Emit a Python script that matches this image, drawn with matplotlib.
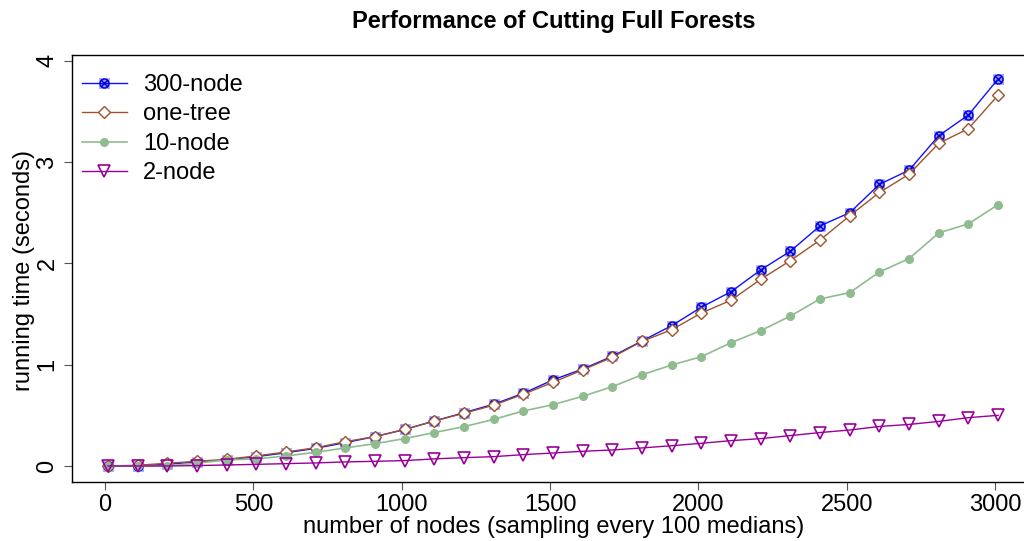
import matplotlib
matplotlib.use("Agg")
import matplotlib.pyplot as plt
from matplotlib.path import Path
from matplotlib.legend_handler import HandlerTuple

plt.rcParams["font.family"] = ["Liberation Sans", "DejaVu Sans"]

# Forest sizes (number of nodes), sampled every 100 medians
nodes = [10 + 100 * i for i in range(31)]

# Running times in seconds
t_300_node = [0.0, 0.0, 0.017, 0.04, 0.06, 0.092, 0.13, 0.174, 0.23, 0.29,
              0.36, 0.444, 0.526, 0.61, 0.717, 0.85, 0.957, 1.083, 1.234, 1.385,
              1.567, 1.72, 1.935, 2.12, 2.37, 2.50, 2.78, 2.92, 3.26, 3.465, 3.82]
t_one_tree = [0.0, 0.007, 0.027, 0.046, 0.066, 0.099, 0.138, 0.18, 0.24, 0.29,
              0.36, 0.444, 0.52, 0.60, 0.708, 0.826, 0.948, 1.073, 1.23, 1.345,
              1.51, 1.636, 1.843, 2.027, 2.23, 2.47, 2.70, 2.88, 3.185, 3.33, 3.66]
t_10_node = [0.0, 0.0, 0.0, 0.027, 0.06, 0.069, 0.099, 0.135, 0.178, 0.22,
             0.27, 0.33, 0.388, 0.46, 0.543, 0.605, 0.688, 0.783, 0.90, 0.997,
             1.079, 1.217, 1.336, 1.48, 1.649, 1.711, 1.915, 2.047, 2.30, 2.39, 2.58]
t_2_node = [0.0, 0.0, 0.0, 0.004, 0.01, 0.016, 0.023, 0.03, 0.04, 0.046,
            0.053, 0.07, 0.082, 0.092, 0.112, 0.128, 0.145, 0.158, 0.178, 0.20,
            0.224, 0.25, 0.27, 0.30, 0.33, 0.355, 0.39, 0.41, 0.44, 0.477, 0.50]

series_labels = ["300-node", "one-tree", "10-node", "2-node"]
x_ticks = [0, 500, 1000, 1500, 2000, 2500, 3000]
y_ticks = [0, 1, 2, 3, 4]

BLUE = "#1010ff"
BROWN = "#a0522d"
GREEN = "#8fbc8f"
PURPLE = "#990099"
FS = 17

# circle with an X inside
circle = Path.unit_circle()
k = 0.7071
cross = Path([(-k, -k), (k, k), (-k, k), (k, -k)],
             [Path.MOVETO, Path.LINETO, Path.MOVETO, Path.LINETO])
circle_x = Path.make_compound_path(circle, cross)

fig = plt.figure(figsize=(10.24, 5.41), dpi=100)
ax = fig.add_axes([0.0706, 0.1091, 0.9389, 0.7893])

sq, = ax.plot(nodes, t_300_node, ls="none", marker="s", ms=6.5,
              mfc="#9a9aff", mec="#9a9aff", mew=0.5, zorder=2)
ln300, = ax.plot(nodes, t_300_node, color=BLUE, lw=1.0, marker=circle_x,
                 ms=6.5, mfc="none", mec="#0000dd", mew=1.0, zorder=3)
ln_one, = ax.plot(nodes, t_one_tree, color=BROWN, lw=1.0, marker="D", ms=6.5,
                  mfc="white", mec=BROWN, mew=1.0, zorder=3)
ln10, = ax.plot(nodes, t_10_node, color=GREEN, lw=1.2, marker="o", ms=5.5,
                mfc=GREEN, mec=GREEN, zorder=4)
ln2, = ax.plot(nodes, t_2_node, color=PURPLE, lw=1.0, marker="v", ms=9,
               mfc="none", mec=PURPLE, mew=1.2, zorder=5)

ax.set_xlim(-110, 3130)
ax.set_ylim(-0.158, 4.057)
ax.set_xticks(x_ticks)
ax.set_yticks(y_ticks)
ax.set_xticklabels([str(v) for v in x_ticks], fontsize=FS)
ax.set_yticklabels([str(v) for v in y_ticks], fontsize=FS, rotation=90, va="center")
ax.tick_params(axis="both", direction="out", length=6, width=0.8, color="#555555")
ax.tick_params(axis="x", pad=3)
ax.tick_params(axis="y", pad=4)
for s in ax.spines.values():
    s.set_linewidth(1.0)
    s.set_color("black")

fig.text(0.5405, 0.961, "Performance of Cutting Full Forests", ha="center",
         va="center", fontsize=17, fontweight="bold")
fig.text(0.5405, 0.025, "number of nodes (sampling every 100 medians)",
         ha="center", va="center", fontsize=FS)
fig.text(0.023, 0.5, "running time (seconds)", rotation=90, ha="center",
         va="center", fontsize=FS)

ax.legend([(sq, ln300), ln_one, ln10, ln2], series_labels,
          handler_map={tuple: HandlerTuple(ndivide=1, pad=0)},
          loc="upper left", bbox_to_anchor=(0.0, 0.978), frameon=False,
          fontsize=FS, handlelength=1.9, handletextpad=0.7, labelspacing=0.32,
          borderaxespad=0.2, borderpad=0.2)

fig.savefig("out.png", dpi=100)
